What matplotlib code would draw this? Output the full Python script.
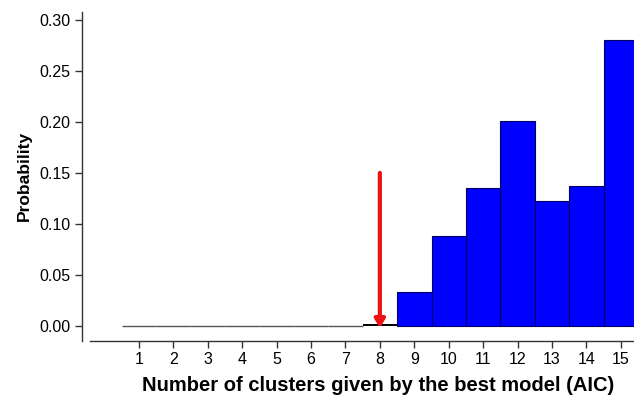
import matplotlib
matplotlib.use('Agg')
import matplotlib.pyplot as plt

plt.rcParams['font.family'] = ['Liberation Sans', 'DejaVu Sans']

clusters = [1, 2, 3, 4, 5, 6, 7, 8, 9, 10, 11, 12, 13, 14, 15]
probability = [0, 0, 0, 0, 0, 0, 0, 0.001, 0.033, 0.088, 0.135, 0.201,
               0.122, 0.137, 0.280]
y_ticks = [0.00, 0.05, 0.10, 0.15, 0.20, 0.25, 0.30]
best_k = 8
arrow_top = 0.15

fig = plt.figure(figsize=(6.34, 3.98), dpi=100)
ax = fig.add_axes([0.1293, 0.1432, 0.8707, 0.827])

# zero-probability bins drawn as a flat line, the rest as blue bars
for k, p in zip(clusters, probability):
    if p < 0.01:
        ax.plot([k - 0.5, k + 0.5], [p, p], color='#555555' if p == 0 else 'black',
                lw=1.0 if p == 0 else 1.4, solid_capstyle='butt')
    else:
        ax.bar(k, p, width=1.0, color='#0000FF', edgecolor='#000060',
               linewidth=0.8)

ax.annotate('', xy=(best_k, -0.002), xytext=(best_k, arrow_top),
            arrowprops=dict(arrowstyle='-|>,head_width=0.3,head_length=0.5',
                            color='#EE1111', lw=3, shrinkA=0, shrinkB=0))

ax.set_xlim(-0.65, 15.38)
ax.set_ylim(-0.0147, 0.3078)
ax.set_xticks(clusters)
ax.set_yticks(y_ticks)
ax.set_yticklabels([f'{v:.2f}' for v in y_ticks])

for side in ['top', 'right']:
    ax.spines[side].set_visible(False)
for side in ['left', 'bottom']:
    ax.spines[side].set_color('#333333')
    ax.spines[side].set_linewidth(1.0)
ax.spines['bottom'].set_bounds(-0.42, 15.38)

ax.tick_params(direction='out', length=5, width=1.0, color='#333333',
               labelsize=11.5, pad=3)

ax.set_xlabel('Number of clusters given by the best model (AIC)',
              fontsize=14.5, fontweight='bold')
ax.xaxis.set_label_coords(0.536, -0.105)
ax.set_ylabel('Probability', fontsize=12.5, fontweight='bold', labelpad=6)

fig.savefig('out.png', dpi=100)
